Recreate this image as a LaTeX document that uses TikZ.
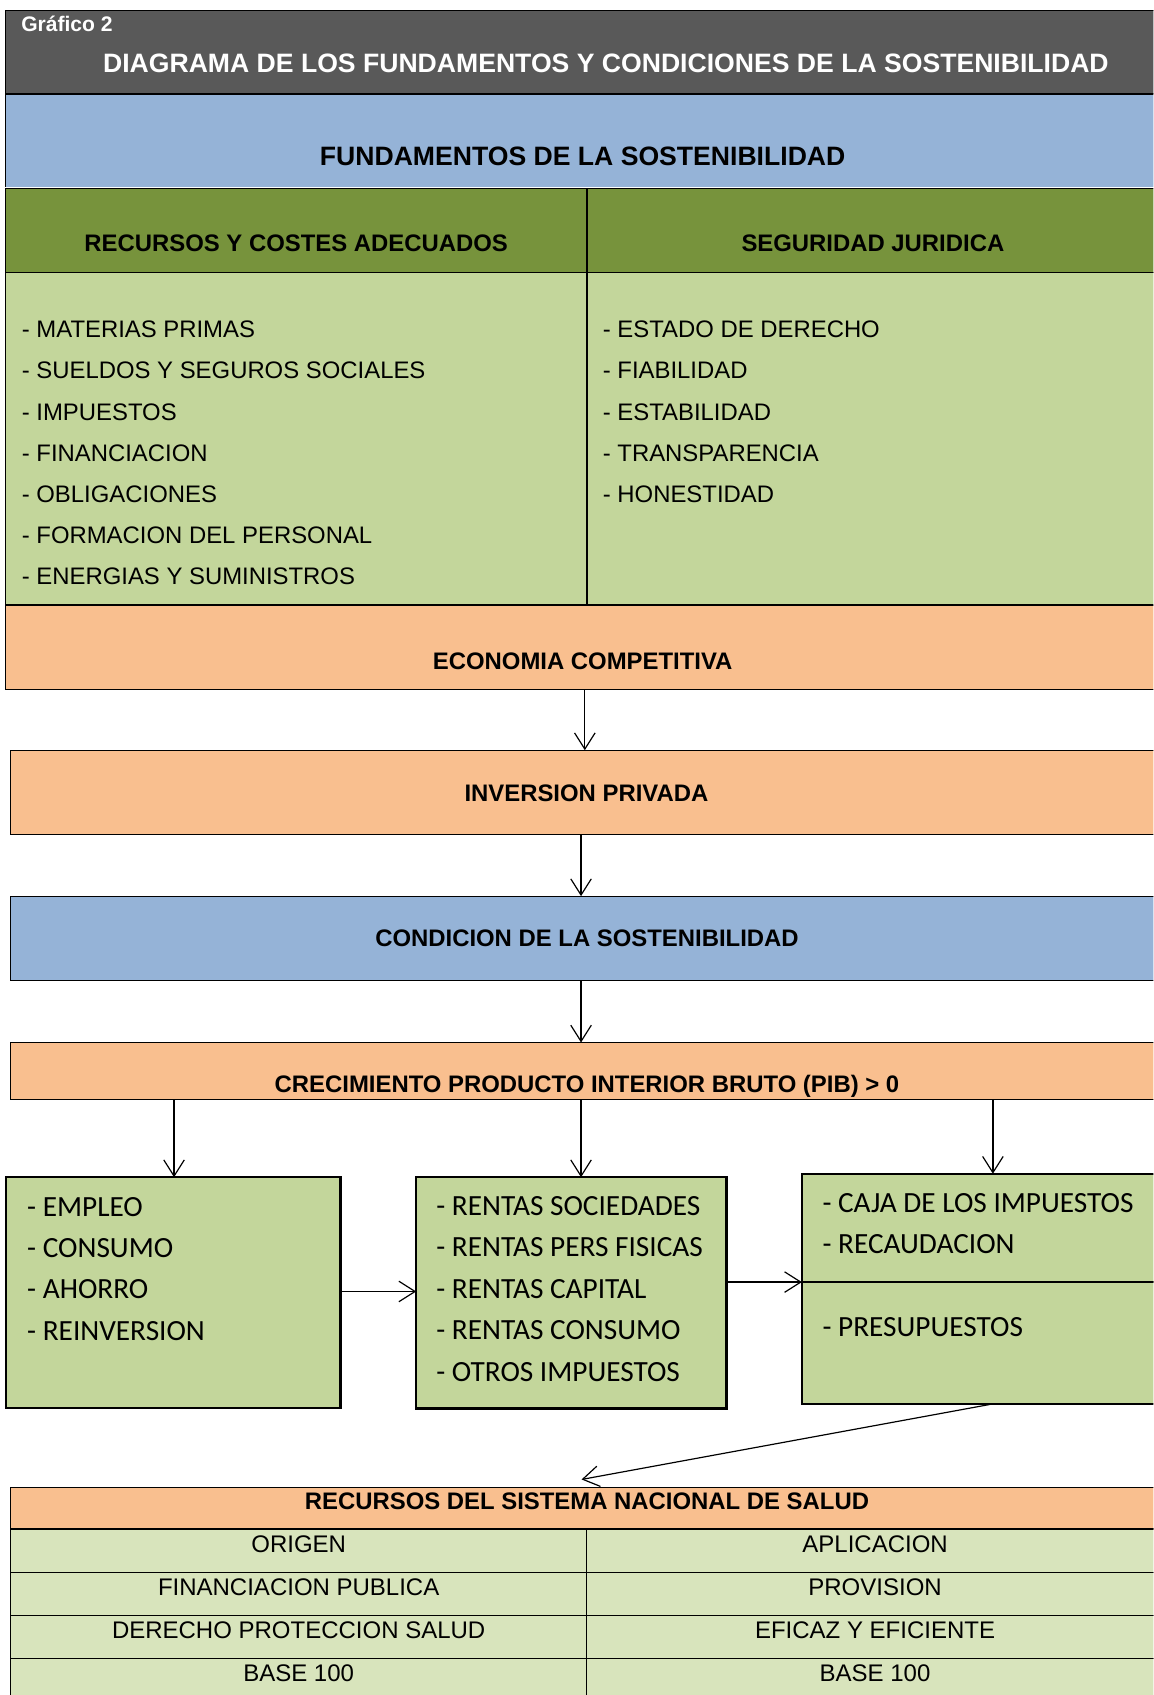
\documentclass[tikz,border=0pt]{standalone}
\usepackage{fontspec}
\setmainfont{Liberation Sans}
\newfontfamily\calfont{Carlito}
\usetikzlibrary{arrows.meta}
\definecolor{cgray}{HTML}{595959}
\definecolor{cblue}{HTML}{95B3D7}
\definecolor{cdgreen}{HTML}{77933C}
\definecolor{clgreen}{HTML}{C3D69B}
\definecolor{corange}{HTML}{F9BF8F}
\definecolor{ctgreen}{HTML}{D8E4BC}
\newcommand{\fsz}[1]{\fontsize{#1}{#1}\selectfont}
\tikzset{
  blk/.style={draw=black, line width=1.1pt, anchor=north west, inner sep=0pt, outer sep=0pt},
  gbox/.style={blk, fill=clgreen, line width=2pt},
  bigtitle/.style={font=\fsz{24.6}\bfseries, inner sep=0pt, anchor=base},
  hdr/.style={font=\fsz{22.1}\bfseries, inner sep=0pt, anchor=base},
  item/.style={font=\fsz{22.1}, inner sep=0pt, anchor=base west},
  titem/.style={font=\fsz{22.2}, inner sep=0pt, anchor=base},
  bitem/.style={font=\calfont\fsz{27.1}, inner sep=0pt, anchor=base west},
  conn/.style={line width=1.1pt, -{Straight Barb[length=15pt,width=19pt]}},
}
\begin{document}
\begin{tikzpicture}[x=1pt,y=-1pt]
\useasboundingbox (0,0) rectangle (1067,1568);
\clip (0,0) rectangle (1067,1568);

% ---------- title bar ----------
\node[blk, fill=cgray, minimum width=1090pt, minimum height=77.5pt] (title) at (5.3,9.5) {};
\node[font=\fsz{19.5}\bfseries, text=white, inner sep=0pt, anchor=base west] (grafico) at (19.5,28.7) {Gráfico 2};
\node[bigtitle, text=white] (ttext) at (560.5,67.3) {DIAGRAMA DE LOS FUNDAMENTOS Y CONDICIONES DE LA SOSTENIBILIDAD};

% ---------- fundamentos ----------
\node[blk, fill=cblue, draw=none, minimum width=1090pt, minimum height=85.5pt] (fund) at (5.3,87.5) {};
\draw[line width=1.1pt] (fund.north west) -- (fund.south west);
\node[bigtitle] (fundt) at (539,153.3) {FUNDAMENTOS DE LA SOSTENIBILIDAD};

\node[blk, fill=cdgreen, minimum width=537.7pt, minimum height=77.4pt] (hleft) at (5.3,174.6) {};
\node[blk, fill=cdgreen, minimum width=550pt, minimum height=77.4pt] (hright) at (543,174.6) {};
\node[hdr] (hlt) at (274,233) {RECURSOS Y COSTES ADECUADOS};
\node[hdr] (hrt) at (807.5,233) {SEGURIDAD JURIDICA};

\node[blk, fill=clgreen, minimum width=537.7pt, minimum height=307pt] (lleft) at (5.3,252) {};
\node[blk, fill=clgreen, minimum width=550pt, minimum height=307pt] (lright) at (543,252) {};

\node[item] (l1) at (20,312.5) {- MATERIAS PRIMAS};
\node[item] (l2) at (20,350.5) {- SUELDOS Y SEGUROS SOCIALES};
\node[item] (l3) at (20,388.6) {- IMPUESTOS};
\node[item] (l4) at (20,426.6) {- FINANCIACION};
\node[item] (l5) at (20,464.7) {- OBLIGACIONES};
\node[item] (l6) at (20,502.7) {- FORMACION DEL PERSONAL};
\node[item] (l7) at (20,540.8) {- ENERGIAS Y SUMINISTROS};

\node[item] (r1) at (557.5,312.5) {- ESTADO DE DERECHO};
\node[item] (r2) at (557.5,350.5) {- FIABILIDAD};
\node[item] (r3) at (557.5,388.6) {- ESTABILIDAD};
\node[item] (r4) at (557.5,426.6) {- TRANSPARENCIA};
\node[item] (r5) at (557.5,464.7) {- HONESTIDAD};

% ---------- chain ----------
\node[blk, fill=corange, minimum width=1090pt, minimum height=77.6pt] (econ) at (4.8,560) {};
\node[hdr] (econt) at (539,619.4) {ECONOMIA COMPETITIVA};

\node[blk, fill=corange, minimum width=1090pt, minimum height=77.8pt] (inv) at (9.5,694) {};
\node[hdr] (invt) at (542.5,741) {INVERSION PRIVADA};

\node[blk, fill=cblue, minimum width=1090pt, minimum height=78pt] (cond) at (9.5,829) {};
\node[hdr] (condt) at (543,876) {CONDICION DE LA SOSTENIBILIDAD};

\node[blk, fill=corange, minimum width=1090pt, minimum height=52.8pt] (crec) at (9.5,964.4) {};
\node[hdr] (crect) at (543,1010.8) {CRECIMIENTO PRODUCTO INTERIOR BRUTO (PIB) > 0};

% ---------- three boxes ----------
\node[gbox, minimum width=309.5pt, minimum height=213.5pt] (box1) at (5.5,1089) {};
\node[gbox, minimum width=287pt, minimum height=214pt] (box2) at (385,1089) {};
\node[gbox, minimum width=360pt, minimum height=100.2pt] (box3a) at (741.8,1085.8) {};
\node[gbox, minimum width=360pt, minimum height=112.7pt] (box3b) at (741.8,1186) {};

\node[bitem] (b11) at (25,1125) {- EMPLEO};
\node[bitem] (b12) at (25,1163.2) {- CONSUMO};
\node[bitem] (b13) at (25,1201.4) {- AHORRO};
\node[bitem] (b14) at (25,1239.6) {- REINVERSION};

\node[bitem] (b21) at (403.5,1124.4) {- RENTAS SOCIEDADES};
\node[bitem] (b22) at (403.5,1162.7) {- RENTAS PERS FISICAS};
\node[bitem] (b23) at (403.5,1201) {- RENTAS CAPITAL};
\node[bitem] (b24) at (403.5,1239.3) {- RENTAS CONSUMO};
\node[bitem] (b25) at (403.5,1277.7) {- OTROS IMPUESTOS};

\node[bitem] (b31) at (760.7,1121.3) {- CAJA DE LOS IMPUESTOS};
\node[bitem] (b32) at (760.7,1159.2) {- RECAUDACION};
\node[bitem] (b33) at (760.7,1236) {- PRESUPUESTOS};

% ---------- table ----------
\node[blk, fill=corange, minimum width=1090pt, minimum height=38.5pt] (thead) at (9.5,1376) {};
\node[hdr] (theadt) at (543,1396.8) {RECURSOS DEL SISTEMA NACIONAL DE SALUD};

\node[blk, fill=ctgreen, minimum width=533pt, minimum height=40pt] (t1l) at (9.5,1414.5) {};
\node[blk, fill=ctgreen, minimum width=550pt, minimum height=40pt] (t1r) at (542.5,1414.5) {};
\node[blk, fill=ctgreen, minimum width=533pt, minimum height=40pt] (t2l) at (9.5,1454.5) {};
\node[blk, fill=ctgreen, minimum width=550pt, minimum height=40pt] (t2r) at (542.5,1454.5) {};
\node[blk, fill=ctgreen, minimum width=533pt, minimum height=40pt] (t3l) at (9.5,1494.5) {};
\node[blk, fill=ctgreen, minimum width=550pt, minimum height=40pt] (t3r) at (542.5,1494.5) {};
\node[blk, fill=ctgreen, minimum width=533pt, minimum height=60pt] (t4l) at (9.5,1534.5) {};
\node[blk, fill=ctgreen, minimum width=550pt, minimum height=60pt] (t4r) at (542.5,1534.5) {};

\node[titem] (o1) at (276.3,1436.5) {ORIGEN};
\node[titem] (a1) at (809.5,1436.5) {APLICACION};
\node[titem] (o2) at (276.3,1476.3) {FINANCIACION PUBLICA};
\node[titem] (a2) at (809.5,1476.3) {PROVISION};
\node[titem] (o3) at (276.3,1516) {DERECHO PROTECCION SALUD};
\node[titem] (a3) at (809.5,1516) {EFICAZ Y EFICIENTE};
\node[titem] (o4) at (276.3,1555.6) {BASE 100};
\node[titem] (a4) at (809.5,1555.6) {BASE 100};

% ---------- connectors ----------
\coordinate (xA) at (541,0);
\coordinate (xB) at (537.5,0);
\coordinate (x1) at (161,0);
\coordinate (x3) at (918.5,0);
\coordinate (yH1) at (0,1194.7);
\coordinate (tin) at (538,1368.6);

\draw[conn] (xA |- econ.south) -- (xA |- inv.north);
\draw[conn] (xB |- inv.south) -- (xB |- cond.north);
\draw[conn] (xB |- cond.south) -- (xB |- crec.north);
\draw[conn] (x1 |- crec.south) -- (x1 |- box1.north);
\draw[conn] (xB |- crec.south) -- (xB |- box2.north);
\draw[conn] (x3 |- crec.south) -- (x3 |- box3a.north);
\draw[conn] (box1.east |- yH1) -- (box2.west |- yH1);
\draw[conn] (box2.east |- box3b.north) -- (box3b.north west);
\draw[conn] (x3 |- box3b.south) -- (tin);
\end{tikzpicture}
\end{document}
